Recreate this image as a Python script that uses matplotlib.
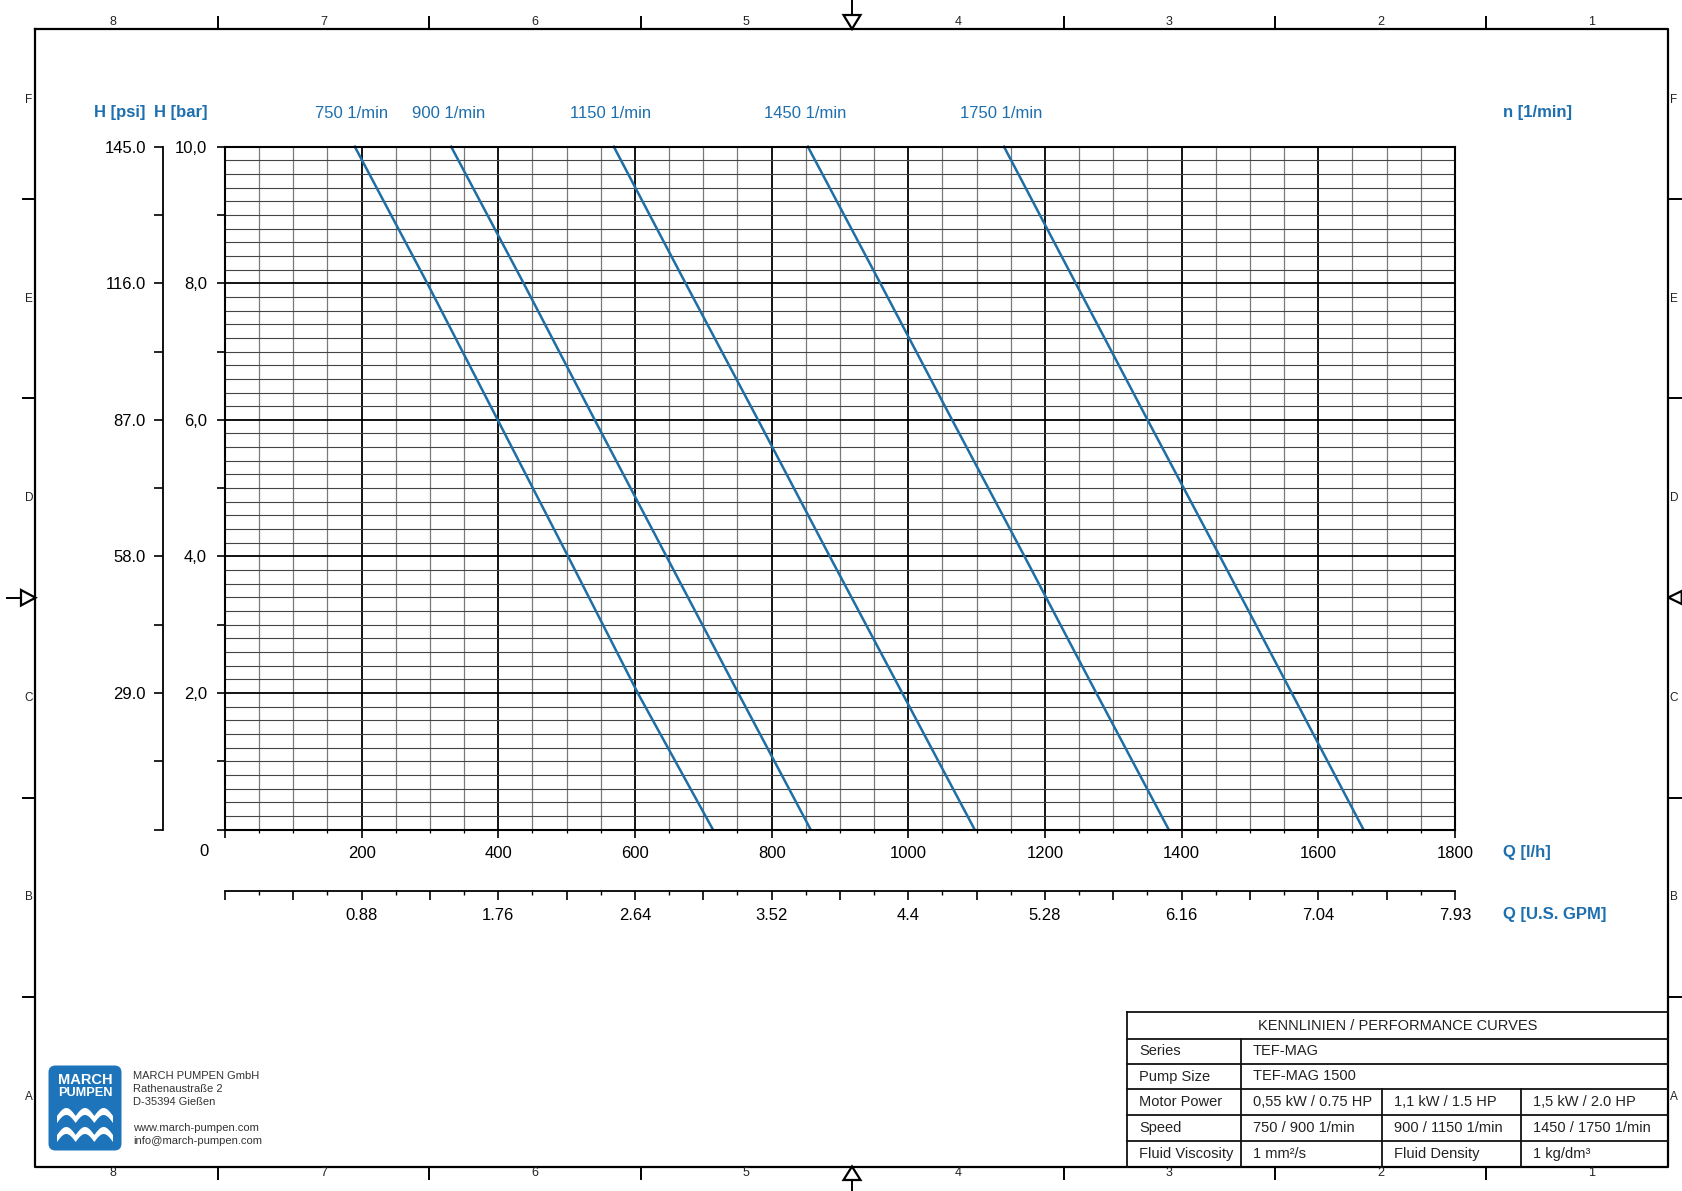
import matplotlib
import matplotlib.pyplot as plt
from matplotlib import font_manager
from matplotlib.patches import FancyBboxPatch, Polygon
import numpy as np

plt.switch_backend('agg')

# --- data ---
head_bar = [10, 8, 6, 4, 2, 0]
flow_750 = [190, 296, 399, 502, 604, 714]
flow_900 = [331, 437, 541, 646, 751, 857]
flow_1150 = [569, 674, 780, 885, 991, 1097]
flow_1450 = [853, 959, 1064, 1170, 1275, 1381]
flow_1750 = [1140, 1245, 1350, 1456, 1561, 1666]
speed_labels = ['750 1/min', '900 1/min', '1150 1/min', '1450 1/min', '1750 1/min']

q_ticks = [0, 200, 400, 600, 800, 1000, 1200, 1400, 1600, 1800]
bar_ticks = [0, 2, 4, 6, 8, 10]
bar_labels = ['', '2,0', '4,0', '6,0', '8,0', '10,0']
psi_ticks = [0, 29, 58, 87, 116, 145]
psi_labels = ['', '29.0', '58.0', '87.0', '116.0', '145.0']
gpm_pos = [200, 400, 600, 800, 1000, 1200, 1400, 1600, 1800]
gpm_labels = ['0.88', '1.76', '2.64', '3.52', '4.4', '5.28', '6.16', '7.04', '7.93']

table_title = 'KENNLINIEN / PERFORMANCE CURVES'
table_rows = [
    ['Series', 'TEF-MAG'],
    ['Pump Size', 'TEF-MAG 1500'],
    ['Motor Power', '0,55 kW / 0.75 HP', '1,1 kW / 1.5 HP', '1,5 kW / 2.0 HP'],
    ['Speed', '750 / 900 1/min', '900 / 1150 1/min', '1450 / 1750 1/min'],
    ['Fluid Viscosity', '1 mm²/s', 'Fluid Density', '1 kg/dm³'],
]
company = ['MARCH PUMPEN GmbH', 'Rathenaustraße 2', 'D-35394 Gießen', '',
           'www.march-pumpen.com', 'info@march-pumpen.com']

W, H = 1683, 1191
avail = {f.name for f in font_manager.fontManager.ttflist}
sans = 'Liberation Sans' if 'Liberation Sans' in avail else 'DejaVu Sans'
iso = 'Liberation Sans Narrow' if 'Liberation Sans Narrow' in avail else sans
plt.rcParams['font.family'] = sans

blue_txt = '#1d6fae'
blue_line = '#1f6ea6'

def fx(px):
    return px / W

def fy(py):
    return 1 - py / H

fig = plt.figure(figsize=(W / 100, H / 100), dpi=100)

# sheet in pixel coordinates (y down)
bg = fig.add_axes([0, 0, 1, 1])
bg.set_xlim(0, W)
bg.set_ylim(H, 0)
bg.axis('off')

L, R, T, B = 35.5, 1668.3, 29, 1166.5
bg.plot([L, R, R, L, L], [T, T, B, B, T], color='black', lw=1.6)
col_ticks = [218, 429.5, 641, 1063.6, 1275, 1486]
for x in col_ticks:
    bg.plot([x, x], [17, T], color='black', lw=1.4)
    bg.plot([x, x], [B, B + 12], color='black', lw=1.4)
for i, x in enumerate([112.5, 323.8, 535, 746.4, 957.7, 1169, 1380.5, 1591.7]):
    bg.text(x, 22, str(8 - i), ha='center', va='center', fontsize=9, family=iso, color='#222')
    bg.text(x, 1173, str(8 - i), ha='center', va='center', fontsize=9, family=iso, color='#222')
row_ticks = [198.6, 398, 797.5, 997]
for y in row_ticks:
    bg.plot([23, L], [y, y], color='black', lw=1.4)
    bg.plot([R, R + 13], [y, y], color='black', lw=1.4)
for i, y in enumerate([99.8, 299.5, 498, 697.6, 897.3, 1097]):
    bg.text(29, y, 'FEDCBA'[i], ha='center', va='center', fontsize=8.5, family=iso, color='#222')
    bg.text(1674, y, 'FEDCBA'[i], ha='center', va='center', fontsize=8.5, family=iso, color='#222')

# centring arrows
bg.plot([852, 852], [0, 15], color='black', lw=1.4)
bg.add_patch(Polygon([[843.5, 15], [860.5, 15], [852, T]], closed=True, fill=False, ec='black', lw=1.6))
bg.plot([852, 852], [1180, H], color='black', lw=1.4)
bg.add_patch(Polygon([[843.5, 1180], [860.5, 1180], [852, B]], closed=True, fill=False, ec='black', lw=1.6))
bg.plot([7, 21], [597.7, 597.7], color='black', lw=1.4)
bg.add_patch(Polygon([[21, 590], [21, 605.5], [L, 597.7]], closed=True, fill=False, ec='black', lw=1.6))
bg.add_patch(Polygon([[1681.7, 591], [1681.7, 604], [R, 597.5]], closed=True, fill=False, ec='black', lw=1.6))

# axis captions
bg.text(120, 113, 'H [psi]', ha='center', va='center', fontsize=12, weight='bold', color=blue_txt)
bg.text(180.5, 113, 'H [bar]', ha='center', va='center', fontsize=12, weight='bold', color=blue_txt)
bg.text(1502.7, 113, 'n [1/min]', ha='left', va='center', fontsize=12, weight='bold', color=blue_txt)
bg.text(1502.7, 852.7, 'Q [l/h]', ha='left', va='center', fontsize=12, weight='bold', color=blue_txt)
bg.text(1502.7, 915, 'Q [U.S. GPM]', ha='left', va='center', fontsize=12, weight='bold', color=blue_txt)
bg.text(204, 852, '0', ha='center', va='center', fontsize=12)

# title block
tx = [1127, 1240.8, 1382.4, 1520.9, R]
ty = [1012.1, 1039, 1063.6, 1089.4, 1115.2, 1140.9, B]
for y in ty[:-1]:
    bg.plot([tx[0], R], [y, y], color='#111', lw=1.3)
bg.plot([tx[0], tx[0]], [ty[0], B], color='#111', lw=1.3)
bg.plot([tx[1], tx[1]], [ty[1], B], color='#111', lw=1.3)
for x in tx[2:4]:
    bg.plot([x, x], [ty[3], B], color='#111', lw=1.3)
bg.text((tx[0] + R) / 2, (ty[0] + ty[1]) / 2, table_title, ha='center', va='center',
        fontsize=10.5, family=iso, color='#222')
for r, row in enumerate(table_rows):
    yc = (ty[r + 1] + ty[r + 2]) / 2
    for c, txt in enumerate(row):
        bg.text(tx[c] + 12, yc, txt, ha='left', va='center', fontsize=10.5, family=iso, color='#222')

# logo + address
bg.add_patch(FancyBboxPatch((48.5, 1065.5), 73, 85, boxstyle='round,pad=0,rounding_size=7',
                            fc='#1d74ba', ec='none'))
bg.text(85, 1080, 'MARCH', ha='center', va='center', fontsize=10.5, weight='bold', color='white')
bg.text(85, 1093.5, 'PUMPEN', ha='center', va='center', fontsize=9.2, weight='bold', color='white')
wx = np.linspace(57, 113, 200)
hump = np.abs(np.sin(np.pi * 3 * (wx - 57) / 56))
for base in [1116, 1135]:
    top = base - 8 * hump
    pts = np.column_stack([np.r_[wx, wx[::-1]], np.r_[top, (top + 7)[::-1]]])
    bg.add_patch(Polygon(pts, closed=True, fc='white', ec='none'))
for i, line in enumerate(company):
    bg.text(133, 1076 + i * 12.9, line, ha='left', va='center', fontsize=8, color='#333')

# --- main chart ---
ax = fig.add_axes([fx(225), fy(829.5), fx(1455) - fx(225), fy(146.7) - fy(829.5)])
for q in np.arange(50, 1800, 50):
    major = q % 200 == 0
    ax.axvline(q, color='black' if major else '#7a7a7a', lw=1.3 if major else 0.9, zorder=1)
for h in np.arange(1, 50) * 0.2:
    major = abs(h / 2 - round(h / 2)) < 1e-6
    ax.axhline(h, color='black' if major else '#444', lw=1.3 if major else 0.8, zorder=1)

for flows in [flow_750, flow_900, flow_1150, flow_1450, flow_1750]:
    ax.plot(flows, head_bar, color=blue_line, lw=1.8, zorder=3, clip_on=False)
for flows, lab in zip([flow_750, flow_900, flow_1150, flow_1450, flow_1750], speed_labels):
    ax.annotate(lab, xy=(flows[0], 10), xytext=(-2, 24), textcoords='offset points',
                ha='center', va='center', fontsize=12, color=blue_txt)

ax.set_xlim(0, 1800)
ax.set_ylim(0, 10)
ax.set_xticks(q_ticks)
ax.set_xticklabels([''] + [str(v) for v in q_ticks[1:]])
ax.set_xticks(np.arange(0, 1801, 50), minor=True)
ax.tick_params(axis='x', which='major', length=6, width=1.2, pad=6, labelsize=12)
ax.tick_params(axis='x', which='minor', length=2.5, width=0.9)
ax.set_yticks(bar_ticks)
ax.set_yticklabels(bar_labels)
ax.set_yticks([1, 3, 5, 7, 9], minor=True)
ax.tick_params(axis='y', which='both', length=6, width=1.2, pad=7, labelsize=12)
for s in ax.spines.values():
    s.set_linewidth(1.5)
    s.set_zorder(4)

# psi scale
axp = fig.add_axes([fx(163.3), fy(829.5), 1e-4, fy(146.7) - fy(829.5)])
axp.set_facecolor('none')
for k in ['top', 'right', 'bottom']:
    axp.spines[k].set_visible(False)
axp.spines['left'].set_linewidth(1.3)
axp.set_xticks([])
axp.set_ylim(0, 145)
axp.set_yticks(psi_ticks)
axp.set_yticklabels(psi_labels)
axp.set_yticks(np.arange(14.5, 145, 29), minor=True)
axp.tick_params(axis='y', which='both', length=6.5, width=1.2, pad=6, labelsize=12)

# U.S. GPM scale
axg = fig.add_axes([fx(225), fy(891), fx(1455) - fx(225), 1e-4])
axg.set_facecolor('none')
for k in ['top', 'right', 'left']:
    axg.spines[k].set_visible(False)
axg.spines['bottom'].set_linewidth(1.3)
axg.set_yticks([])
axg.set_xlim(0, 1800)
g_major = list(range(0, 1801, 100))
g_lab = dict(zip(gpm_pos, gpm_labels))
axg.set_xticks(g_major)
axg.set_xticklabels([g_lab.get(v, '') for v in g_major])
axg.set_xticks(np.arange(50, 1800, 100), minor=True)
axg.tick_params(axis='x', which='major', length=6.5, width=1.2, pad=6, labelsize=12)
axg.tick_params(axis='x', which='minor', length=3, width=1.0)

fig.savefig('out.png', dpi=100)
